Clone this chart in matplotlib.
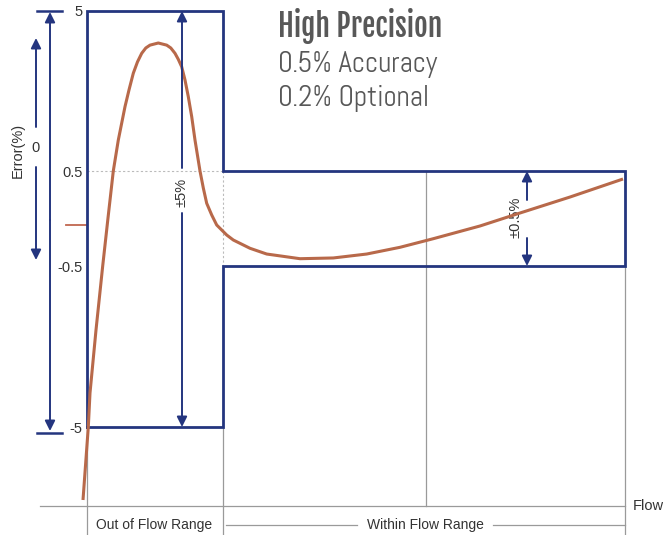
import numpy as np
import matplotlib
matplotlib.use("Agg")
import matplotlib.pyplot as plt
from matplotlib import font_manager

# ---------------- data ----------------
flow_start = 87.0      # start of out-of-flow-range region
flow_split = 223.0     # boundary out-of-flow-range / within-flow-range
flow_mid = 426.0       # mid grid line
flow_end = 625.0       # end of flow range

wide_limit = 5.0
narrow_limit = 0.5
tick_values = [5, 0.5, -0.5, -5]
tick_labels = ["5", "0.5", "-0.5", "-5"]

curve_flow = [83, 88.3, 90, 96, 102.7, 108, 113.3, 118.3, 125, 129, 133.3,
              137.5, 141.7, 145.8, 150, 158.3, 166.7, 170.8, 175, 178.3,
              181.7, 185, 188.3, 191.7, 195, 200, 203.3, 206.7, 211.7, 216.7,
              226.7, 233.3, 250, 266.7, 300, 333.3, 366.7, 400, 433.3, 480,
              520, 570, 623]
curve_error = [-7.04, -5.0, -4.05, -2.29, -0.5, 0.065, 0.5, 1.37, 2.31, 2.78,
               3.25, 3.57, 3.81, 3.96, 4.04, 4.10, 4.04, 3.96, 3.81, 3.64,
               3.43, 3.06, 2.59, 2.03, 1.37, 0.5, 0.343, 0.201, 0.093, 0.0,
               -0.122, -0.183, -0.284, -0.354, -0.411, -0.402, -0.354, -0.272,
               -0.167, -0.012, 0.111, 0.259, 0.426]

title_lines = ["High Precision", "0.5% Accuracy", "0.2% Optional"]

# ---------------- style ----------------
NAVY = "#24357f"
CURVE = "#b8694a"
GRAY = "#9a9a9a"
TEXT = "#333333"
TITLE = "#585858"

avail = {f.name for f in font_manager.fontManager.ttflist}
sans = "Liberation Sans" if "Liberation Sans" in avail else "DejaVu Sans"
plt.rcParams["font.family"] = [sans, "DejaVu Sans"]

def pick(cands):
    for c in cands:
        if c in avail:
            return c
    return sans

bold_font = pick(["Fjalla One", "Oswald", "Roboto Condensed", "Barlow Condensed"])
light_font = pick(["Abel", "Oswald", "Roboto Condensed"])

W, H = 663, 535
fig = plt.figure(figsize=(W / 100, H / 100), dpi=100)

E_knots = np.array([-30, -5, -0.5, 0, 0.5, 5, 30])
P_knots = np.array([108 - 25 * 161 / 4.5, 108, 269, 310, 364, 524, 524 + 25 * 160 / 4.5])

def fwd(e):
    return np.interp(e, E_knots, P_knots)

def inv(p):
    return np.interp(p, P_knots, E_knots)

ax = fig.add_axes([0, 0, 1, 1])
ax.set_yscale("function", functions=(fwd, inv))
ax.set_xlim(0, W)
ax.set_ylim(inv(0), inv(H))
for s in ax.spines.values():
    s.set_visible(False)
ax.set_xticks([])
ax.spines["left"].set_position(("data", flow_start))
ax.set_yticks(tick_values)
ax.set_yticklabels(tick_labels)
ax.tick_params(axis="y", length=0, pad=3, labelsize=10.5, labelcolor=TEXT)
ax.yaxis.set_minor_locator(matplotlib.ticker.NullLocator())
ax.patch.set_alpha(0)

bottom_err = inv(0)
axis_err = inv(H - 506)

ax.plot([flow_start, flow_start], [-wide_limit, bottom_err], color=GRAY, lw=0.9)
ax.plot([flow_split, flow_split], [-wide_limit, bottom_err], color=GRAY, lw=0.9)
ax.plot([flow_mid, flow_mid], [narrow_limit, axis_err], color=GRAY, lw=0.9)
ax.plot([flow_end, flow_end], [-narrow_limit, bottom_err], color=GRAY, lw=0.9)
ax.plot([40, flow_end], [axis_err, axis_err], color=GRAY, lw=0.9)
ax.plot([flow_start, flow_split], [narrow_limit, narrow_limit], color="#bbbbbb", lw=0.8, ls=(0, (2, 2)))
ax.plot([flow_split, flow_split], [narrow_limit, -narrow_limit], color="#bbbbbb", lw=0.8, ls=(0, (2, 2)))

env_x = [flow_start, flow_start, flow_split, flow_split, flow_end, flow_end, flow_split, flow_split, flow_start]
env_y = [-wide_limit, wide_limit, wide_limit, narrow_limit, narrow_limit, -narrow_limit, -narrow_limit, -wide_limit, -wide_limit]
ax.plot(env_x, env_y, color=NAVY, lw=2.0, solid_joinstyle="miter", zorder=3)

ax.plot([66, 86], [0, 0], color="#c0674f", lw=1.3)

ax.plot(curve_flow, curve_error, color=CURVE, lw=2.2, zorder=4,
        solid_joinstyle="round", solid_capstyle="butt")

def arrow(x0, y0, x1, y1, style="-|>"):
    ax.annotate("", xy=(x1, y1), xytext=(x0, y0),
                arrowprops=dict(arrowstyle=style, color=NAVY, lw=1.4,
                                mutation_scale=15, shrinkA=0, shrinkB=0),
                zorder=5)

arrow(182, inv(H - 168), 182, wide_limit)
arrow(182, inv(H - 213), 182, -wide_limit)
ax.text(182, inv(H - 192), "±5%", rotation=90, ha="center", va="center",
        fontsize=10.5, color=TEXT)
arrow(527, inv(H - 200), 527, narrow_limit)
arrow(527, inv(H - 238), 527, -narrow_limit)
ax.text(516, inv(H - 217), "±0.5%", rotation=90, ha="center", va="center",
        fontsize=10.5, color=TEXT)

arrow(50, inv(H - 220), 50, inv(H - 12))
arrow(50, inv(H - 220), 50, inv(H - 431))
ax.plot([37, 62], [wide_limit, wide_limit], color=NAVY, lw=1.8)
ax.plot([37, 62], [inv(H - 433), inv(H - 433)], color=NAVY, lw=1.8)
arrow(36, inv(H - 127), 36, inv(H - 38))
arrow(36, inv(H - 167), 36, inv(H - 260))
ax.text(36, inv(H - 148), "0", ha="center", va="center", fontsize=10.5, color=TEXT)
ax.text(18, inv(H - 150), "Error(%)", rotation=90, ha="center", va="center",
        fontsize=10.5, color=TEXT)

lab_y = inv(H - 525)
ax.text(154, lab_y, "Out of Flow Range", ha="center", va="center", fontsize=10, color=TEXT)
ax.plot([226, 357], [lab_y, lab_y], color=GRAY, lw=0.9)
ax.text(425, lab_y, "Within Flow Range", ha="center", va="center", fontsize=10, color=TEXT)
ax.plot([493, flow_end], [lab_y, lab_y], color=GRAY, lw=0.9)
ax.text(633, axis_err, "Flow", ha="left", va="center", fontsize=10.5, color=TEXT)

ax.text(278, inv(H - 26), title_lines[0], ha="left", va="center", fontsize=21.3,
        color=TITLE, family=[bold_font, "DejaVu Sans"])
ax.text(278, inv(H - 64), title_lines[1], ha="left", va="center", fontsize=20.8,
        color=TITLE, family=[light_font, "DejaVu Sans"])
ax.text(278, inv(H - 99), title_lines[2], ha="left", va="center", fontsize=20.8,
        color=TITLE, family=[light_font, "DejaVu Sans"])

fig.savefig("out.png", dpi=100)
